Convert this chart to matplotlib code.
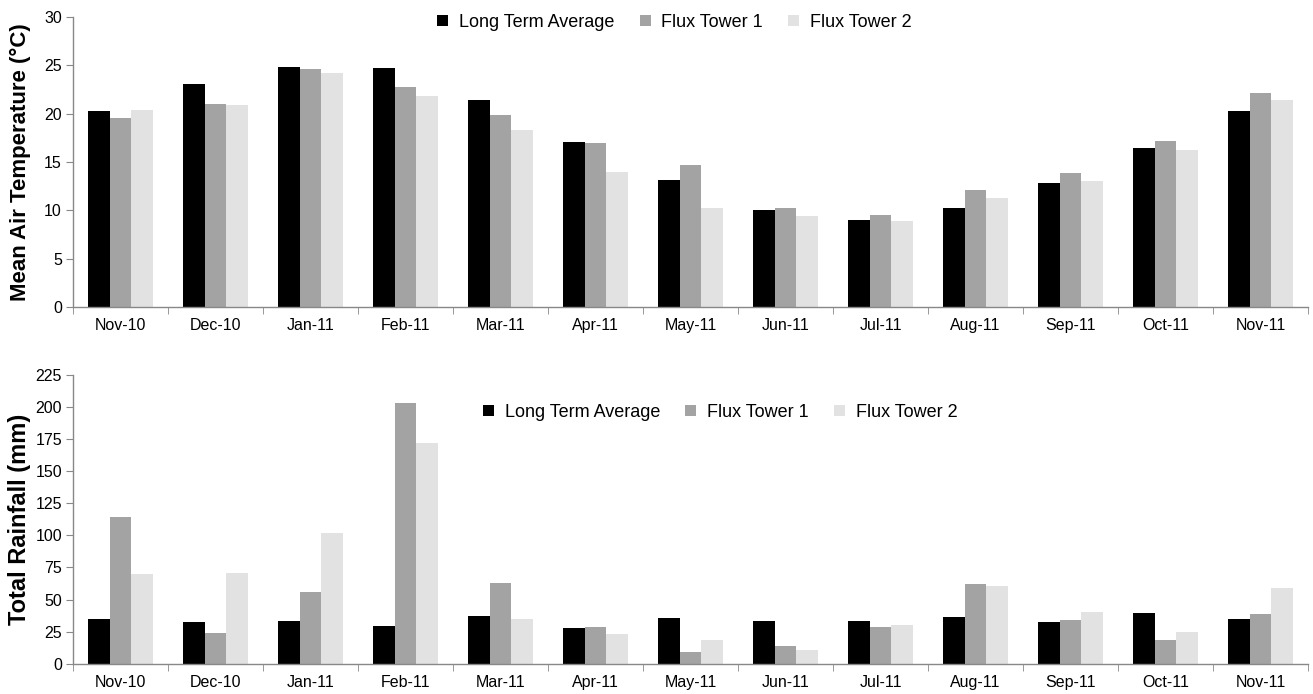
import matplotlib
matplotlib.use("Agg")
import matplotlib.pyplot as plt
import numpy as np
from matplotlib.font_manager import findfont, FontProperties

months = ["Nov-10", "Dec-10", "Jan-11", "Feb-11", "Mar-11", "Apr-11", "May-11",
          "Jun-11", "Jul-11", "Aug-11", "Sep-11", "Oct-11", "Nov-11"]
series_names = ["Long Term Average", "Flux Tower 1", "Flux Tower 2"]

temp_lta = [20.3, 23.0, 24.8, 24.7, 21.4, 17.1, 13.1, 10.0, 9.0, 10.2, 12.8, 16.4, 20.3]
temp_ft1 = [19.5, 21.0, 24.6, 22.7, 19.8, 17.0, 14.7, 10.3, 9.5, 12.1, 13.9, 17.2, 22.1]
temp_ft2 = [20.4, 20.9, 24.2, 21.8, 18.3, 14.0, 10.3, 9.4, 8.9, 11.3, 13.0, 16.2, 21.4]

rain_lta = [34.5, 32.7, 33.2, 29.0, 36.8, 27.5, 35.3, 33.2, 33.2, 36.3, 32.2, 39.2, 34.5]
rain_ft1 = [114, 24, 56, 203, 63, 28.5, 9.3, 14.0, 28.8, 62.0, 34.0, 18.2, 38.6]
rain_ft2 = [70, 71, 101.5, 172, 34.8, 23.3, 18.2, 10.6, 29.8, 60.4, 40.5, 24.6, 58.6]

temp_ticks = [0, 5, 10, 15, 20, 25, 30]
rain_ticks = [0, 25, 50, 75, 100, 125, 150, 175, 200, 225]

colors = ["#000000", "#a3a3a3", "#e2e2e2"]

def has_font(name):
    try:
        findfont(FontProperties(family=name), fallback_to_default=False)
        return True
    except Exception:
        return False

tick_font = "Liberation Sans Narrow" if has_font("Liberation Sans Narrow") else "Liberation Sans"
label_font = "Liberation Sans"

fig = plt.figure(figsize=(13.13, 6.94), dpi=100)
ax1 = fig.add_axes([0.0556, 0.5572, 0.9406, 0.4188])
ax2 = fig.add_axes([0.0556, 0.0437, 0.9406, 0.4160])

x = np.arange(len(months))
w = 0.225
spine_col = "#888888"

def style(ax, lta, ft1, ft2, ticks, ylabel, legend_anchor, label_size):
    for i, (vals, c, n) in enumerate(zip([lta, ft1, ft2], colors, series_names)):
        ax.bar(x + (i - 1) * w, vals, width=w, color=c, label=n, edgecolor="none")
    ax.set_xlim(-0.5, len(months) - 0.5)
    ax.set_ylim(ticks[0], ticks[-1])
    ax.set_yticks(ticks)
    ax.set_yticklabels([str(t) for t in ticks], fontfamily=tick_font, fontsize=11.5)
    ax.set_xticks(x)
    ax.set_xticklabels(months, fontfamily=tick_font, fontsize=11.5)
    ax.set_xticks(np.arange(len(months) + 1) - 0.5, minor=True)
    ax.tick_params(axis="x", which="major", length=0, pad=8)
    ax.tick_params(axis="x", which="minor", length=5, color=spine_col, direction="out")
    ax.tick_params(axis="y", length=5, color=spine_col, direction="out", pad=3)
    for s in ["top", "right"]:
        ax.spines[s].set_visible(False)
    for s in ["left", "bottom"]:
        ax.spines[s].set_color(spine_col)
        ax.spines[s].set_linewidth(1.0)
    ax.set_ylabel(ylabel, fontfamily=label_font, fontweight="bold", fontsize=label_size)
    ax.legend(loc="center", bbox_to_anchor=legend_anchor, ncol=3, frameon=False,
              prop={"family": tick_font, "size": 13},
              handlelength=0.6, handleheight=0.6, handletextpad=0.6,
              columnspacing=1.4, borderaxespad=0)

style(ax1, temp_lta, temp_ft1, temp_ft2, temp_ticks, "Mean Air Temperature (°C)",
      (0.487, 0.98), 16)
style(ax2, rain_lta, rain_ft1, rain_ft2, rain_ticks, "Total Rainfall (mm)",
      (0.524, 0.87), 17)

ax1.yaxis.set_label_coords(-0.034, 0.5)
ax2.yaxis.set_label_coords(-0.034, 0.5)

fig.savefig("out.png", dpi=100, facecolor="white")
